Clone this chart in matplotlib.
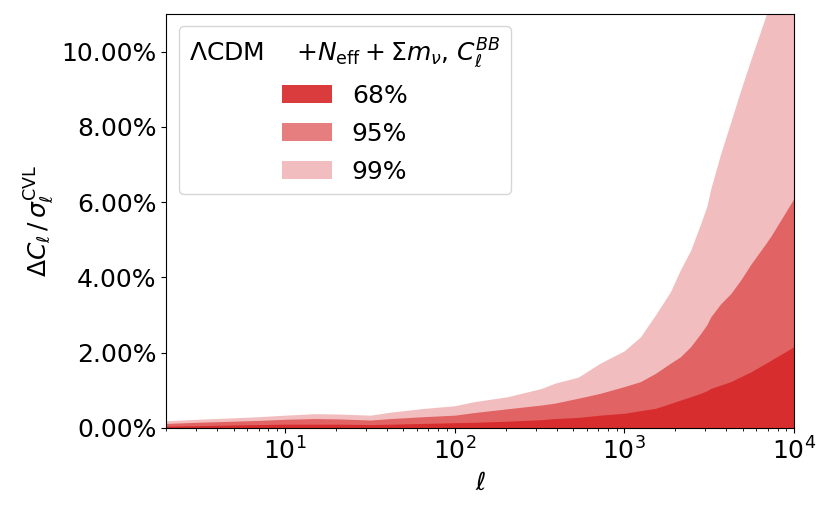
import matplotlib
matplotlib.use("Agg")
import numpy as np
from matplotlib import pyplot as plt
from matplotlib.ticker import PercentFormatter

ell = [2, 3, 5, 7, 10, 15, 21, 32, 42, 66, 100, 131, 205, 325, 390, 535, 721,
       1000, 1244, 1525, 1870, 2140, 2460, 2820, 3070, 3230, 3700, 4240, 4850,
       5570, 6820, 7320, 10000]

# band upper edges, in percent
band_99 = [0.19, 0.23, 0.27, 0.30, 0.34, 0.38, 0.37, 0.34, 0.42, 0.52, 0.59, 0.70,
           0.83, 1.05, 1.19, 1.35, 1.72, 2.05, 2.42, 3.00, 3.62, 4.20, 4.72, 5.43,
           5.90, 6.35, 7.29, 8.13, 8.97, 9.79, 10.95, 11.40, 13.20]
band_95 = [0.12, 0.15, 0.18, 0.20, 0.23, 0.25, 0.24, 0.21, 0.25, 0.30, 0.34, 0.41,
           0.51, 0.61, 0.66, 0.79, 0.92, 1.10, 1.23, 1.45, 1.72, 1.89, 2.16, 2.51,
           2.75, 2.95, 3.30, 3.57, 3.93, 4.35, 4.90, 5.10, 6.10]
band_68 = [0.05, 0.06, 0.08, 0.09, 0.10, 0.10, 0.10, 0.09, 0.10, 0.12, 0.14, 0.15,
           0.18, 0.22, 0.25, 0.28, 0.34, 0.39, 0.46, 0.52, 0.65, 0.74, 0.83, 0.92,
           0.99, 1.05, 1.14, 1.23, 1.36, 1.49, 1.72, 1.80, 2.16]

labels = ["68%", "95%", "99%"]
alphas = [0.9, 0.6, 0.3]

fig = plt.figure(figsize=(8.31, 5.15), dpi=100)
ax = fig.add_axes([0.2, 0.169, 0.7555, 0.804])

handles = {}
# widest band underneath, narrowest on top
for band, lab, a in zip([band_99, band_95, band_68], labels[::-1], alphas[::-1]):
    handles[lab] = ax.fill_between(ell, 0, band, color="tab:red", alpha=a,
                                   linewidth=0, label=lab)

ax.set_xscale("log")
ax.set_xlim(2, 1e4)
ax.set_ylim(0, 11)
ax.yaxis.set_major_formatter(PercentFormatter(xmax=100, decimals=2))
ax.tick_params(labelsize=18)
ax.set_xlabel(r"$\ell$", fontsize=18)
ax.set_ylabel(r"$\Delta C_\ell\,/\,\sigma_\ell^{\rm CVL}$", fontsize=18)

leg = ax.legend([handles[l] for l in labels], labels, loc="upper left",
                fontsize=18, title_fontsize=18, labelspacing=0.56,
                title=r"$\Lambda$CDM    $+N_{\rm eff}+\Sigma m_\nu$, $C_\ell^{BB}$")

fig.savefig("out.png", dpi=100)
